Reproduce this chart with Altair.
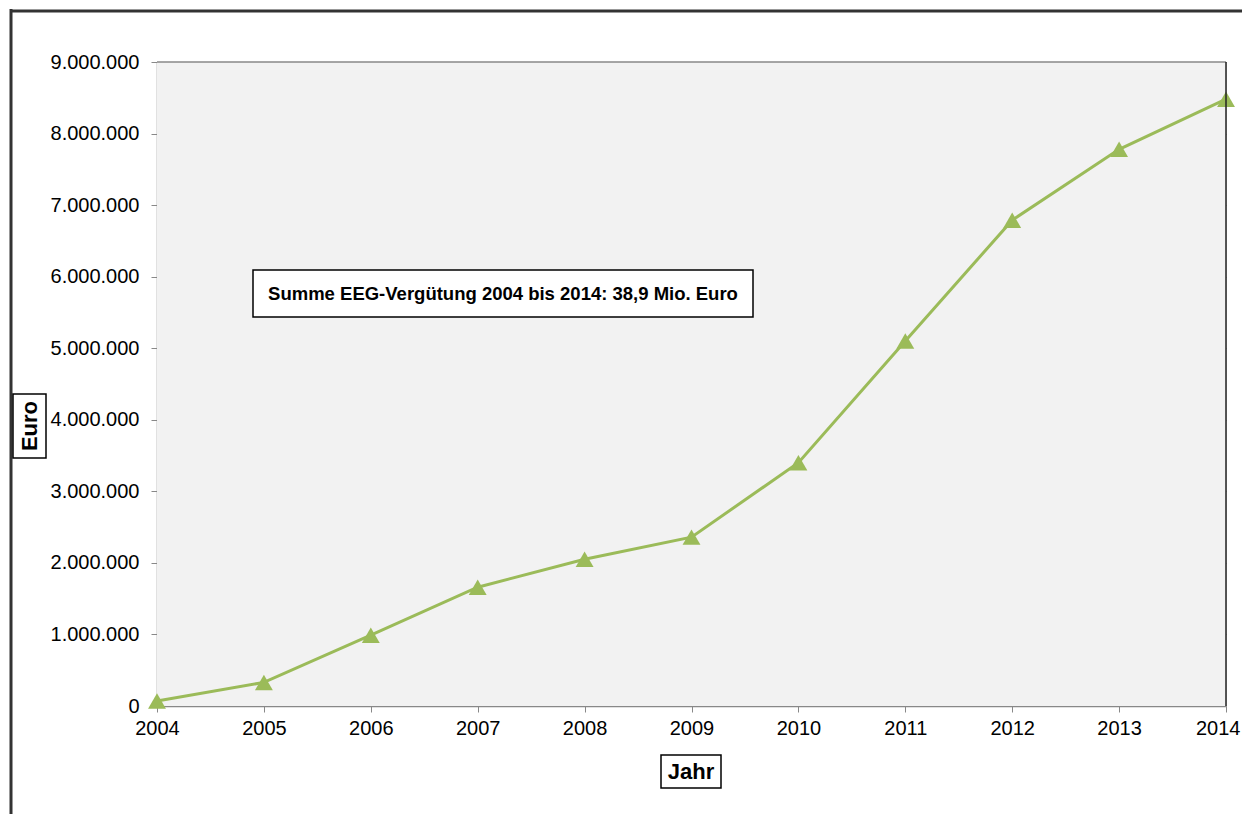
import altair as alt
import pandas as pd

years = [2004, 2005, 2006, 2007, 2008, 2009, 2010, 2011, 2012, 2013, 2014]
euro = [70000, 330000, 990000, 1660000, 2050000, 2360000, 3400000, 5100000, 6790000, 7780000, 8480000]
y_ticks = [0, 1000000, 2000000, 3000000, 4000000, 5000000, 6000000, 7000000, 8000000, 9000000]
annotation = "Summe EEG-Vergütung 2004 bis 2014: 38,9 Mio. Euro"
x_title = "Jahr"
y_title = "Euro"

df = pd.DataFrame({"Jahr": years, "Euro": euro})
one = pd.DataFrame({"k": [0]})

W, H = 1069, 644
FONT = "Liberation Sans"
GREEN = "#9bbb59"
GRID = "#888888"

x = alt.X("Jahr:Q",
          scale=alt.Scale(domain=[2004, 2014], nice=False, zero=False),
          axis=alt.Axis(values=years, format="d", title=None, grid=False,
                        labelFont=FONT, labelFontSize=20, labelColor="#000000",
                        labelPadding=6, tickColor=GRID, tickSize=6,
                        domainColor=GRID, domainWidth=1.5, labelFlush=False,
                        labelAlign={"condition": {"test": "datum.value == 2014", "value": "right"},
                                    "value": "center"},
                        labelOffset={"condition": {"test": "datum.value == 2014", "value": 14},
                                     "value": 0}))
y = alt.Y("Euro:Q",
          scale=alt.Scale(domain=[0, 9000000], nice=False),
          axis=alt.Axis(values=y_ticks, format=",d", title=None, grid=True,
                        gridColor=GRID, gridWidth=1, labelFont=FONT,
                        labelFontSize=20, labelColor="#000000", labelPadding=12,
                        tickColor=GRID, tickSize=6, domainColor=GRID,
                        domainWidth=1.5))

bg = alt.Chart(one).mark_rect(fill="#f2f2f2").encode(
    x=alt.value(0), x2=alt.value(W), y=alt.value(0), y2=alt.value(H))

base = alt.Chart(df)
line = base.mark_line(color=GREEN, strokeWidth=3).encode(x=x, y=y)
pts = base.mark_point(shape="triangle-up", filled=True, color=GREEN,
                      size=320, opacity=1).encode(x=x, y=y)

top_edge = alt.Chart(one).mark_rule(color=GRID, strokeWidth=1.5).encode(
    y=alt.value(0), x=alt.value(0), x2=alt.value(W))
right_edge = alt.Chart(one).mark_rule(color="#222222", strokeWidth=1.5).encode(
    x=alt.value(W), y=alt.value(0), y2=alt.value(H))

frame_left = alt.Chart(one).mark_rule(color="#333333", strokeWidth=3).encode(
    x=alt.value(-146), y=alt.value(-53), y2=alt.value(H + 160))
frame_top = alt.Chart(one).mark_rule(color="#333333", strokeWidth=3).encode(
    y=alt.value(-51), x=alt.value(-147), x2=alt.value(W + 60))

ann_box = alt.Chart(one).mark_rect(fill="white", stroke="black", strokeWidth=1.5).encode(
    x=alt.value(96), x2=alt.value(596), y=alt.value(208), y2=alt.value(255))
ann_text = alt.Chart(one).mark_text(font=FONT, fontSize=18.5, fontWeight="bold",
                                   color="black", align="center", baseline="middle").encode(
    x=alt.value(346), y=alt.value(232), text=alt.value(annotation))

jb = alt.Chart(one).mark_rect(fill="white", stroke="black", strokeWidth=1.5).encode(
    x=alt.value(504), x2=alt.value(564), y=alt.value(693), y2=alt.value(726))
jt = alt.Chart(one).mark_text(font=FONT, fontSize=22, fontWeight="bold",
                             color="black", align="center", baseline="middle").encode(
    x=alt.value(534), y=alt.value(710), text=alt.value(x_title))

eb = alt.Chart(one).mark_rect(fill="white", stroke="black", strokeWidth=1.5).encode(
    x=alt.value(-144), x2=alt.value(-111), y=alt.value(332), y2=alt.value(396))
et = alt.Chart(one).mark_text(font=FONT, fontSize=22, fontWeight="bold",
                             color="black", align="center", baseline="middle",
                             angle=270).encode(
    x=alt.value(-127.5), y=alt.value(364), text=alt.value(y_title))

chart = alt.layer(bg, line, pts, top_edge, right_edge, frame_left, frame_top,
                  ann_box, ann_text, jb, jt, eb, et).properties(
    width=W, height=H,
    autosize=alt.AutoSizeParams(type="none"),
    padding={"left": 149, "top": 54, "right": 16, "bottom": 108},
).configure_view(stroke=None).configure(
    locale={"number": {"decimal": ",", "thousands": ".", "grouping": [3],
                       "currency": ["", " €"]}}
)

chart.save("out.html", embed_options={"renderer": "svg", "actions": False})
